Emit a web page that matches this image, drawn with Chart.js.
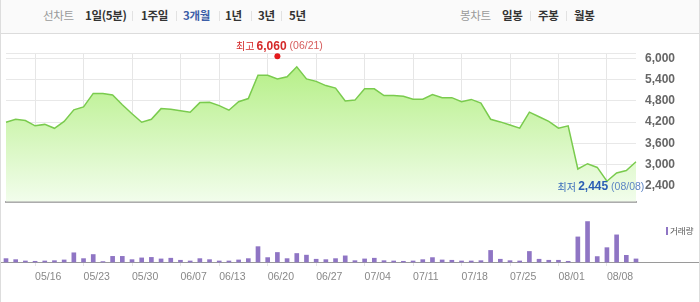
<!DOCTYPE html>
<html lang="ko">
<head>
<meta charset="utf-8">
<title>3개월 차트</title>
<script src="https://cdn.jsdelivr.net/npm/chart.js@4.4.1/dist/chart.umd.min.js"></script>
<style>
  html, body { margin: 0; padding: 0; background: #fff; }
  #wrap { position: relative; width: 700px; height: 302px; overflow: hidden; font-family: "Noto Sans CJK KR", "Noto Sans", sans-serif; }
  .tabbar { position: absolute; left: 0; top: 0; width: 700px; height: 33px; background: #fafafa; border-bottom: 1px solid #dcdcdc; }
  .tab { position: absolute; top: 7px; font-size: 11.5px; line-height: 16px; color: #333; font-weight: bold; white-space: nowrap; letter-spacing: -0.3px; }
  .tab.lbl { color: #9a9a9a; font-weight: normal; }
  .tab.on { color: #3d5fa8; }
  .sep { position: absolute; top: 11px; width: 1px; height: 10px; background: #e2e2e2; }
  #priceBox { position: absolute; left: 0; top: 34px; width: 700px; height: 184px; }
  #volBox { position: absolute; left: 0; top: 218px; width: 700px; height: 84px; }
  .legend { position: absolute; left: 666px; top: 224px; font-size: 8.5px; line-height: 12px; color: #555; white-space: nowrap; }
  .legend i { display: inline-block; width: 2px; height: 8px; background: #8f75c4; margin-right: 2px; vertical-align: -1px; }
  .frame { position: absolute; left: 0; top: 0; right: 0; bottom: 0; border-left: 1px solid #ddd; border-right: 1px solid #ddd; pointer-events: none; }
</style>
</head>
<body>
<div id="wrap">
  <div class="tabbar">
    <span class="tab lbl" style="left:43px">선차트</span>
    <span class="tab" style="left:85px">1일(5분)</span>
    <span class="sep" style="left:132px"></span>
    <span class="tab" style="left:141px">1주일</span>
    <span class="sep" style="left:176px"></span>
    <span class="tab on" style="left:183px">3개월</span>
    <span class="sep" style="left:219px"></span>
    <span class="tab" style="left:225px">1년</span>
    <span class="sep" style="left:251px"></span>
    <span class="tab" style="left:258px">3년</span>
    <span class="sep" style="left:281px"></span>
    <span class="tab" style="left:289px">5년</span>

    <span class="tab lbl" style="left:460px">봉차트</span>
    <span class="tab" style="left:502px">일봉</span>
    <span class="sep" style="left:530px"></span>
    <span class="tab" style="left:538px">주봉</span>
    <span class="sep" style="left:566px"></span>
    <span class="tab" style="left:574px">월봉</span>
  </div>
  <div id="priceBox"><canvas id="priceChart"></canvas></div>
  <div id="volBox"><canvas id="volChart"></canvas></div>
  <div class="legend"><i></i>거래량</div>
  <div class="frame"></div>
</div>

<script>
// ---------------------------------------------------------------
// 데이터
// ---------------------------------------------------------------
const dates = [
  '05/11', '05/12', '05/13', '05/16', '05/17', '05/18', '05/19', '05/20',
  '05/23', '05/24', '05/25', '05/26', '05/27', '05/30', '05/31', '06/01',
  '06/02', '06/03', '06/07', '06/08', '06/09', '06/10', '06/13', '06/14',
  '06/15', '06/16', '06/17', '06/20', '06/21', '06/22', '06/23', '06/24',
  '06/27', '06/28', '06/29', '06/30', '07/01', '07/04', '07/05', '07/06',
  '07/07', '07/08', '07/11', '07/12', '07/13', '07/14', '07/15', '07/18',
  '07/19', '07/20', '07/21', '07/22', '07/25', '07/26', '07/27', '07/28',
  '07/29', '08/01', '08/02', '08/03', '08/04', '08/05', '08/08', '08/09',
  '08/10', '08/11'
];

// 종가
const prices = [
  4195, 4280, 4245, 4095, 4135, 4025, 4220, 4545,
  4630, 5010, 5010, 4965, 4690, 4435, 4195, 4280,
  4580, 4565, 4520, 4480, 4750, 4760, 4665, 4535,
  4775, 4865, 5520, 5520, 5420, 5480, 5760, 5420,
  5350, 5230, 5160, 4795, 4820, 5140, 5140, 4950,
  4950, 4930, 4845, 4845, 4975, 4890, 4890, 4775,
  4840, 4735, 4280, 4205, 4120, 4030, 4480, 4350,
  4220, 4030, 4095, 2875, 3025, 2920, 2530, 2765,
  2835, 3080
];

// 거래량
const volumes = [
  33000, 23000, 10000, 7000, 10000, 13000, 20000, 90000,
  33000, 73000, 4000, 55000, 55000, 23000, 40000, 45000,
  30000, 37000, 17000, 10000, 33000, 23000, 10000, 10000,
  20000, 33000, 150000, 43000, 93000, 33000, 83000, 67000,
  27000, 23000, 33000, 60000, 13000, 30000, 37000, 13000,
  10000, 7000, 10000, 23000, 43000, 20000, 17000, 10000,
  10000, 13000, 113000, 27000, 13000, 10000, 103000, 27000,
  17000, 17000, 7000, 245000, 395000, 53000, 140000, 265000,
  65000, 30000
];

const tickDates = ['05/16', '05/23', '05/30', '06/07', '06/13', '06/20', '06/27',
  '07/04', '07/11', '07/18', '07/25', '08/01', '08/08'];
const priceTicks = [2400, 3000, 3600, 4200, 4800, 5400, 6000];

const highDate = '06/21';
const highPrice = 6060;
const lowDate = '08/08';
const lowPrice = 2445;

const FONT_NUM = 'Liberation Sans';
const FONT_KR = 'Noto Sans CJK KR';

// ---------------------------------------------------------------
// 최고/최저 표시
// ---------------------------------------------------------------
function marcaEm(data) {
  return dates.map((d) => (d === data.date ? data.value : null));
}

function desenharRotulo(ctx, cx, cy, partes) {
  ctx.save();
  ctx.textBaseline = 'middle';
  ctx.textAlign = 'left';
  let total = 0;
  partes.forEach((p) => { ctx.font = p.font; p.w = ctx.measureText(p.text).width; total += p.w; });
  let x = cx - total / 2;
  partes.forEach((p) => {
    ctx.font = p.font;
    ctx.fillStyle = p.color;
    ctx.fillText(p.text, x, cy);
    x += p.w;
  });
  ctx.restore();
}

const rotulosPlugin = {
  id: 'rotulosMaxMin',
  afterDatasetsDraw(chart) {
    const { ctx, scales: { x, y } } = chart;
    const hx = x.getPixelForValue(dates.indexOf(highDate));
    const hy = y.getPixelForValue(highPrice);
    desenharRotulo(ctx, hx + 2, hy - 10, [
      { text: '최고 ', font: `10px "${FONT_KR}"`, color: '#d42a2a' },
      { text: highPrice.toLocaleString('en-US'), font: `bold 12px "${FONT_NUM}"`, color: '#d42a2a' },
      { text: ` (${highDate})`, font: `10.5px "${FONT_NUM}"`, color: '#d65c5c' }
    ]);
    const lx = x.getPixelForValue(dates.indexOf(lowDate));
    const ly = y.getPixelForValue(lowPrice);
    desenharRotulo(ctx, lx - 6, ly + 2.5, [
      { text: '최저 ', font: `10px "${FONT_KR}"`, color: '#3a6dbb' },
      { text: lowPrice.toLocaleString('en-US'), font: `bold 12px "${FONT_NUM}"`, color: '#2a5fb4' },
      { text: ` (${lowDate})`, font: `10.5px "${FONT_NUM}"`, color: '#5d85c4' }
    ]);
  }
};

function gradeX(ctx) {
  const i = ctx.tick ? ctx.tick.value : ctx.index;
  return tickDates.includes(dates[i]) ? '#e6e6e6' : 'rgba(0,0,0,0)';
}

// ---------------------------------------------------------------
// 주가 차트
// ---------------------------------------------------------------
new Chart(document.getElementById('priceChart'), {
  type: 'line',
  data: {
    labels: dates,
    datasets: [
      {
        data: prices,
        borderColor: '#7acb4e',
        borderWidth: 1.5,
        pointRadius: 0,
        tension: 0,
        fill: 'start',
        backgroundColor: (c) => {
          const area = c.chart.chartArea;
          if (!area) return 'rgba(0,0,0,0)';
          const g = c.chart.ctx.createLinearGradient(0, area.top, 0, area.bottom);
          g.addColorStop(0, 'rgb(176,238,126)');
          g.addColorStop(1, 'rgb(242,253,236)');
          return g;
        }
      },
      { data: marcaEm({ date: highDate, value: highPrice }), showLine: false, pointRadius: 3, pointBorderWidth: 0, pointBackgroundColor: '#e3191c' },
      { data: marcaEm({ date: lowDate, value: lowPrice }), showLine: false, pointRadius: 3, pointBorderWidth: 0, pointBackgroundColor: '#1f63c8' }
    ]
  },
  options: {
    responsive: true,
    maintainAspectRatio: false,
    animation: false,
    layout: { padding: { left: 6, top: 19, bottom: 1, right: 0 } },
    plugins: { legend: { display: false }, tooltip: { enabled: false } },
    scales: {
      x: {
        offset: false,
        grid: { color: gradeX, drawTicks: false, offset: false },
        ticks: { display: false, autoSkip: false },
        border: { display: true, color: '#acacac', width: 2 },
        afterFit: (s) => { s.height = 0; }
      },
      y: {
        position: 'right',
        min: 1950,
        max: 6150,
        afterBuildTicks: (s) => { s.ticks = priceTicks.concat([6150]).map((v) => ({ value: v })); },
        grid: { color: '#e8e8e8', drawTicks: false },
        border: { display: false },
        ticks: {
          padding: 9,
          color: '#666',
          font: { family: FONT_NUM, size: 12, weight: 'bold' },
          callback: (v) => (priceTicks.includes(v) ? v.toLocaleString('en-US') : '')
        },
        afterFit: (s) => { s.width = 64; }
      }
    }
  },
  plugins: [rotulosPlugin]
});

// ---------------------------------------------------------------
// 거래량 차트
// ---------------------------------------------------------------
const linhaBase = {
  id: 'linhaBase',
  beforeDatasetsDraw(chart) {
    const { ctx, chartArea } = chart;
    ctx.save();
    ctx.strokeStyle = '#9a9a9a';
    ctx.lineWidth = 1;
    ctx.beginPath();
    ctx.moveTo(0, Math.round(chartArea.bottom) + 0.5);
    ctx.lineTo(chart.width, Math.round(chartArea.bottom) + 0.5);
    ctx.stroke();
    ctx.restore();
  }
};

new Chart(document.getElementById('volChart'), {
  type: 'bar',
  data: {
    labels: dates,
    datasets: [{ data: volumes, backgroundColor: '#8f75c4', barThickness: 4, clip: false }]
  },
  options: {
    responsive: true,
    maintainAspectRatio: false,
    animation: false,
    layout: { padding: { left: 6, right: 64, top: 1, bottom: 0 } },
    plugins: { legend: { display: false }, tooltip: { enabled: false } },
    scales: {
      x: {
        offset: false,
        grid: { offset: false, drawOnChartArea: false, drawTicks: true, tickLength: 4, color: gradeX },
        border: { display: false },
        ticks: {
          autoSkip: false,
          maxRotation: 0,
          align: 'start',
          padding: 5,
          color: '#888',
          font: { family: FONT_NUM, size: 10.5 },
          callback: (v, i) => (tickDates.includes(dates[i]) ? dates[i] : '')
        },
        afterFit: (s) => { s.height = 40; }
      },
      y: { display: false, min: 0, max: 420000 }
    }
  },
  plugins: [linhaBase]
});
</script>
</body>
</html>
